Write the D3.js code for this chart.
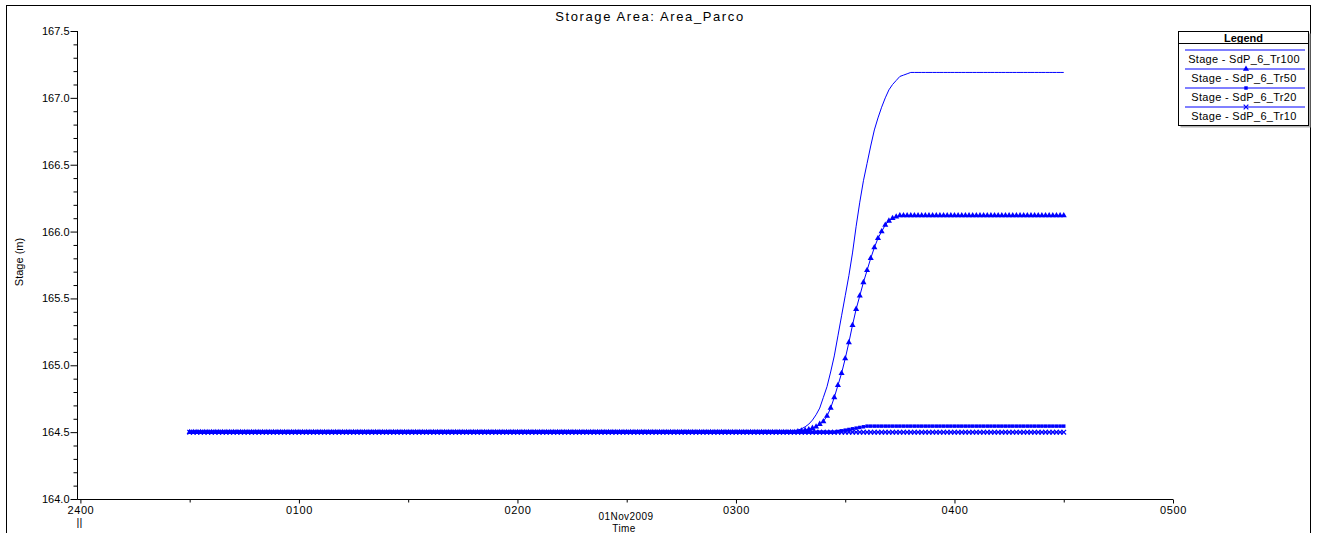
<!DOCTYPE html>
<html>
<head>
<meta charset="utf-8">
<script src="https://cdn.jsdelivr.net/npm/d3@7"></script>
<style>
  body { margin: 0; background: #fff; }
  svg { display: block; font-family: "Liberation Sans", Arial, sans-serif; }
  .tick text { font-size: 11px; fill: #000; }
</style>
</head>
<body>
<svg id="chart" width="1319" height="533"></svg>
<script>
// x tick labels (hours, HEC-RAS style) and series names
var hourLabels = ["2400", "0100", "0200", "0300", "0400", "0500"];
var seriesNames = ["Stage - SdP_6_Tr100", "Stage - SdP_6_Tr50", "Stage - SdP_6_Tr20", "Stage - SdP_6_Tr10"];

// output every minute from 00:30 to 04:30 (minutes after midnight)
var minutes = d3.range(30, 271);

var stageTr100 = [
  164.5,164.5,164.5,164.5,164.5,164.5,164.5,164.5,164.5,164.5,164.5,164.5,164.5,164.5,164.5,164.5,164.5,164.5,164.5,164.5,
  164.5,164.5,164.5,164.5,164.5,164.5,164.5,164.5,164.5,164.5,164.5,164.5,164.5,164.5,164.5,164.5,164.5,164.5,164.5,164.5,
  164.5,164.5,164.5,164.5,164.5,164.5,164.5,164.5,164.5,164.5,164.5,164.5,164.5,164.5,164.5,164.5,164.5,164.5,164.5,164.5,
  164.5,164.5,164.5,164.5,164.5,164.5,164.5,164.5,164.5,164.5,164.5,164.5,164.5,164.5,164.5,164.5,164.5,164.5,164.5,164.5,
  164.5,164.5,164.5,164.5,164.5,164.5,164.5,164.5,164.5,164.5,164.5,164.5,164.5,164.5,164.5,164.5,164.5,164.5,164.5,164.5,
  164.5,164.5,164.5,164.5,164.5,164.5,164.5,164.5,164.5,164.5,164.5,164.5,164.5,164.5,164.5,164.5,164.5,164.5,164.5,164.5,
  164.5,164.5,164.5,164.5,164.5,164.5,164.5,164.5,164.5,164.5,164.5,164.5,164.5,164.5,164.5,164.5,164.5,164.5,164.5,164.5,
  164.5,164.5,164.5,164.5,164.5,164.5,164.5,164.5,164.5,164.5,164.5,164.5,164.5,164.5,164.5,164.5,164.5,164.5,164.5,164.5,
  164.5,164.5,164.5,164.5,164.5,
  164.505,164.51,164.515,164.525,164.54,164.56,164.59,164.63,164.68,164.76,
  164.84,164.95,165.07,165.22,165.37,165.52,165.67,165.84,166.04,166.22,
  166.38,166.51,166.64,166.76,166.85,166.93,167.00,167.06,167.10,167.13,
  167.16,167.17,167.18,167.19,
  167.19,167.19,167.19,167.19,167.19,167.19,167.19,167.19,167.19,167.19,167.19,167.19,167.19,167.19,167.19,167.19,167.19,167.19,167.19,167.19,
  167.19,167.19,167.19,167.19,167.19,167.19,167.19,167.19,167.19,167.19,167.19,167.19,167.19,167.19,167.19,167.19,167.19,167.19,167.19,167.19,
  167.19,167.19
];

var stageTr50 = [
  164.5,164.5,164.5,164.5,164.5,164.5,164.5,164.5,164.5,164.5,164.5,164.5,164.5,164.5,164.5,164.5,164.5,164.5,164.5,164.5,
  164.5,164.5,164.5,164.5,164.5,164.5,164.5,164.5,164.5,164.5,164.5,164.5,164.5,164.5,164.5,164.5,164.5,164.5,164.5,164.5,
  164.5,164.5,164.5,164.5,164.5,164.5,164.5,164.5,164.5,164.5,164.5,164.5,164.5,164.5,164.5,164.5,164.5,164.5,164.5,164.5,
  164.5,164.5,164.5,164.5,164.5,164.5,164.5,164.5,164.5,164.5,164.5,164.5,164.5,164.5,164.5,164.5,164.5,164.5,164.5,164.5,
  164.5,164.5,164.5,164.5,164.5,164.5,164.5,164.5,164.5,164.5,164.5,164.5,164.5,164.5,164.5,164.5,164.5,164.5,164.5,164.5,
  164.5,164.5,164.5,164.5,164.5,164.5,164.5,164.5,164.5,164.5,164.5,164.5,164.5,164.5,164.5,164.5,164.5,164.5,164.5,164.5,
  164.5,164.5,164.5,164.5,164.5,164.5,164.5,164.5,164.5,164.5,164.5,164.5,164.5,164.5,164.5,164.5,164.5,164.5,164.5,164.5,
  164.5,164.5,164.5,164.5,164.5,164.5,164.5,164.5,164.5,164.5,164.5,164.5,164.5,164.5,164.5,164.5,164.5,164.5,164.5,164.5,
  164.5,164.5,164.5,164.5,164.5,164.5,164.5,
  164.505,164.51,164.515,164.52,164.53,164.54,164.56,164.58,164.62,164.68,
  164.76,164.85,164.94,165.05,165.17,165.30,165.42,165.52,165.62,165.71,
  165.80,165.88,165.95,166.00,166.05,166.08,166.10,166.11,166.12,
  166.12,166.12,166.12,166.12,166.12,166.12,166.12,166.12,166.12,166.12,166.12,166.12,166.12,166.12,166.12,166.12,166.12,166.12,166.12,166.12,
  166.12,166.12,166.12,166.12,166.12,166.12,166.12,166.12,166.12,166.12,166.12,166.12,166.12,166.12,166.12,166.12,166.12,166.12,166.12,166.12,
  166.12,166.12,166.12,166.12,166.12
];

var stageTr20 = [
  164.5,164.5,164.5,164.5,164.5,164.5,164.5,164.5,164.5,164.5,164.5,164.5,164.5,164.5,164.5,164.5,164.5,164.5,164.5,164.5,
  164.5,164.5,164.5,164.5,164.5,164.5,164.5,164.5,164.5,164.5,164.5,164.5,164.5,164.5,164.5,164.5,164.5,164.5,164.5,164.5,
  164.5,164.5,164.5,164.5,164.5,164.5,164.5,164.5,164.5,164.5,164.5,164.5,164.5,164.5,164.5,164.5,164.5,164.5,164.5,164.5,
  164.5,164.5,164.5,164.5,164.5,164.5,164.5,164.5,164.5,164.5,164.5,164.5,164.5,164.5,164.5,164.5,164.5,164.5,164.5,164.5,
  164.5,164.5,164.5,164.5,164.5,164.5,164.5,164.5,164.5,164.5,164.5,164.5,164.5,164.5,164.5,164.5,164.5,164.5,164.5,164.5,
  164.5,164.5,164.5,164.5,164.5,164.5,164.5,164.5,164.5,164.5,164.5,164.5,164.5,164.5,164.5,164.5,164.5,164.5,164.5,164.5,
  164.5,164.5,164.5,164.5,164.5,164.5,164.5,164.5,164.5,164.5,164.5,164.5,164.5,164.5,164.5,164.5,164.5,164.5,164.5,164.5,
  164.5,164.5,164.5,164.5,164.5,164.5,164.5,164.5,164.5,164.5,164.5,164.5,164.5,164.5,164.5,164.5,164.5,164.5,164.5,164.5,
  164.5,164.5,164.5,164.5,164.5,164.5,164.5,164.5,164.5,164.5,164.5,164.5,164.5,164.5,164.5,164.5,164.5,164.5,
  164.505,164.51,164.515,164.52,164.525,164.53,164.535,164.54,164.545,
  164.545,164.545,164.545,164.545,164.545,164.545,164.545,164.545,164.545,164.545,164.545,164.545,164.545,164.545,164.545,164.545,164.545,164.545,
  164.545,164.545,164.545,164.545,164.545,164.545,164.545,164.545,164.545,164.545,164.545,164.545,164.545,164.545,164.545,164.545,164.545,164.545,
  164.545,164.545,164.545,164.545,164.545,164.545,164.545,164.545,164.545,164.545,164.545,164.545,164.545,164.545,164.545,164.545,164.545,164.545
];

var stageTr10 = [
  164.5,164.5,164.5,164.5,164.5,164.5,164.5,164.5,164.5,164.5,164.5,164.5,164.5,164.5,164.5,164.5,164.5,164.5,164.5,164.5,
  164.5,164.5,164.5,164.5,164.5,164.5,164.5,164.5,164.5,164.5,164.5,164.5,164.5,164.5,164.5,164.5,164.5,164.5,164.5,164.5,
  164.5,164.5,164.5,164.5,164.5,164.5,164.5,164.5,164.5,164.5,164.5,164.5,164.5,164.5,164.5,164.5,164.5,164.5,164.5,164.5,
  164.5,164.5,164.5,164.5,164.5,164.5,164.5,164.5,164.5,164.5,164.5,164.5,164.5,164.5,164.5,164.5,164.5,164.5,164.5,164.5,
  164.5,164.5,164.5,164.5,164.5,164.5,164.5,164.5,164.5,164.5,164.5,164.5,164.5,164.5,164.5,164.5,164.5,164.5,164.5,164.5,
  164.5,164.5,164.5,164.5,164.5,164.5,164.5,164.5,164.5,164.5,164.5,164.5,164.5,164.5,164.5,164.5,164.5,164.5,164.5,164.5,
  164.5,164.5,164.5,164.5,164.5,164.5,164.5,164.5,164.5,164.5,164.5,164.5,164.5,164.5,164.5,164.5,164.5,164.5,164.5,164.5,
  164.5,164.5,164.5,164.5,164.5,164.5,164.5,164.5,164.5,164.5,164.5,164.5,164.5,164.5,164.5,164.5,164.5,164.5,164.5,164.5,
  164.5,164.5,164.5,164.5,164.5,164.5,164.5,164.5,164.5,164.5,164.5,164.5,164.5,164.5,164.5,164.5,164.5,164.5,164.5,164.5,
  164.5,164.5,164.5,164.5,164.5,164.5,164.5,164.5,164.5,164.5,164.5,164.5,164.5,164.5,164.5,164.5,164.5,164.5,164.5,164.5,
  164.5,164.5,164.5,164.5,164.5,164.5,164.5,164.5,164.5,164.5,164.5,164.5,164.5,164.5,164.5,164.5,164.5,164.5,164.5,164.5,
  164.5,164.5,164.5,164.5,164.5,164.5,164.5,164.5,164.5,164.5,164.5,164.5,164.5,164.5,164.5,164.5,164.5,164.5,164.5,164.5,
  164.5
];

var blue = "#0000ff";

/**
 * Draws the whole plot: frame, axes, the four stage series and the legend.
 */
function drawChart() {
  var svg = d3.select("#chart");

  // outer frame
  svg.append("rect")
    .attr("x", 6.5).attr("y", 5.5)
    .attr("width", 1304).attr("height", 600)
    .attr("fill", "none").attr("stroke", "#000");

  var xScale = d3.scaleLinear()
    .domain([0, 300])
    .range([80.4, 1173]);

  var yScale = d3.scaleLinear()
    .domain([164, 167.5])
    .range([499, 31]);

  var axisY = 499.5;
  var axisX = 77.5;

  // y axis: labelled ticks every 0.5, small ticks every 0.1
  var yMinor = d3.range(16400, 16751, 10).map(function(d) { return d / 100; })
    .filter(function(d) { return Math.round(d * 10) % 5 != 0; });

  svg.append("g")
    .attr("transform", "translate(" + axisX + ",0)")
    .call(d3.axisLeft(yScale).tickValues(yMinor).tickSize(4).tickFormat(""))
    .call(function(g) { g.select(".domain").remove(); });

  svg.append("g")
    .attr("transform", "translate(" + axisX + ",0)")
    .call(d3.axisLeft(yScale)
      .tickValues(d3.range(164, 167.51, 0.5))
      .tickSize(7).tickSizeOuter(0).tickPadding(1)
      .tickFormat(d3.format(".1f")))
    .call(function(g) { g.select(".domain").remove(); });

  svg.append("line")
    .attr("x1", axisX).attr("x2", axisX)
    .attr("y1", yScale(167.5)).attr("y2", axisY)
    .attr("stroke", "#000");

  // x axis: hours labelled, half hours as small ticks
  svg.append("g")
    .attr("transform", "translate(0," + axisY + ")")
    .call(d3.axisBottom(xScale).tickValues([30, 90, 150, 210, 270]).tickSize(3).tickFormat(""))
    .call(function(g) { g.select(".domain").remove(); });

  var xAxis = svg.append("g")
    .attr("transform", "translate(0," + axisY + ")")
    .call(d3.axisBottom(xScale)
      .tickValues([0, 60, 120, 180, 240, 300])
      .tickSize(4).tickPadding(3)
      .tickFormat(function(d, i) { return hourLabels[i]; }))
    .call(function(g) { g.select(".domain").remove(); });
  xAxis.selectAll("text").attr("letter-spacing", "0.6px");

  svg.append("line")
    .attr("x1", axisX).attr("x2", xScale(300))
    .attr("y1", axisY).attr("y2", axisY)
    .attr("stroke", "#000");

  // axis break mark under the origin, date and axis titles
  svg.append("text")
    .attr("x", xScale(0) - 1).attr("y", 526)
    .attr("text-anchor", "middle")
    .style("font-size", "11px")
    .text("||");

  svg.append("text")
    .attr("x", 626).attr("y", 520)
    .attr("text-anchor", "middle")
    .style("font-size", "10px")
    .attr("letter-spacing", "0.4px")
    .text("01Nov2009");

  svg.append("text")
    .attr("x", 624).attr("y", 531.5)
    .attr("text-anchor", "middle")
    .style("font-size", "10px")
    .attr("letter-spacing", "0.4px")
    .text("Time");

  svg.append("text")
    .attr("transform", "translate(23,262) rotate(-90)")
    .attr("text-anchor", "middle")
    .style("font-size", "11px")
    .text("Stage (m)");

  svg.append("text")
    .attr("x", 650).attr("y", 21)
    .attr("text-anchor", "middle")
    .style("font-size", "13px")
    .attr("letter-spacing", "1.6px")
    .text("Storage Area: Area_Parco");

  // series
  var series = [
    { name: seriesNames[0], values: stageTr100, symbol: null },
    { name: seriesNames[1], values: stageTr50, symbol: "triangle" },
    { name: seriesNames[2], values: stageTr20, symbol: "square" },
    { name: seriesNames[3], values: stageTr10, symbol: "x" }
  ];

  var line = d3.line()
    .x(function(d) { return xScale(d[0]); })
    .y(function(d) { return yScale(d[1]); });

  series.forEach(function(s) {
    var pts = minutes.map(function(m, i) { return [m, s.values[i]]; });
    svg.append("path")
      .datum(pts)
      .attr("fill", "none")
      .attr("stroke", blue)
      .attr("stroke-width", 1)
      .attr("d", line);
    if (s.symbol) {
      svg.append("g").selectAll("path")
        .data(pts)
        .enter().append("path")
        .attr("transform", function(d) {
          return "translate(" + xScale(d[0]) + "," + yScale(d[1]) + ")";
        })
        .call(styleMarker, s.symbol);
    }
  });

  drawLegend(svg, series);
}

/**
 * Gives a marker path its shape and colour.
 */
function styleMarker(sel, kind) {
  if (kind == "triangle") {
    sel.attr("d", d3.symbol(d3.symbolTriangle, 16)).attr("fill", blue);
  } else if (kind == "square") {
    sel.attr("d", d3.symbol(d3.symbolSquare, 12)).attr("fill", blue);
  } else {
    sel.attr("d", d3.symbol(d3.symbolX, 16)).attr("fill", "none")
      .attr("stroke", blue).attr("stroke-width", 1.2);
  }
}

/**
 * Draws the boxed legend in the top right corner.
 */
function drawLegend(svg, series) {
  var lx = 1178.5, ly = 31.5, lw = 130, lh = 94;
  var g = svg.append("g");

  g.append("rect")
    .attr("x", lx + 2).attr("y", ly + 2)
    .attr("width", lw).attr("height", lh)
    .attr("fill", "#b0b0b0");
  g.append("rect")
    .attr("x", lx).attr("y", ly)
    .attr("width", lw).attr("height", lh)
    .attr("fill", "#fff").attr("stroke", "#000");

  g.append("text")
    .attr("x", lx + lw / 2).attr("y", ly + 10.5)
    .attr("text-anchor", "middle")
    .style("font-size", "11px")
    .style("font-weight", "bold")
    .text("Legend");
  g.append("line")
    .attr("x1", lx).attr("x2", lx + lw)
    .attr("y1", ly + 12).attr("y2", ly + 12)
    .attr("stroke", "#000");

  series.forEach(function(s, i) {
    var y = 50 + i * 19;
    g.append("line")
      .attr("x1", 1185).attr("x2", 1305)
      .attr("y1", y).attr("y2", y)
      .attr("stroke", blue);
    if (s.symbol) {
      g.append("path")
        .attr("transform", "translate(1246," + y + ")")
        .call(styleMarker, s.symbol);
    }
    g.append("text")
      .attr("x", 1244).attr("y", y + 13)
      .attr("text-anchor", "middle")
      .attr("letter-spacing", "0.3px")
      .style("font-size", "11px")
      .text(s.name);
  });
}

drawChart();
</script>
</body>
</html>
